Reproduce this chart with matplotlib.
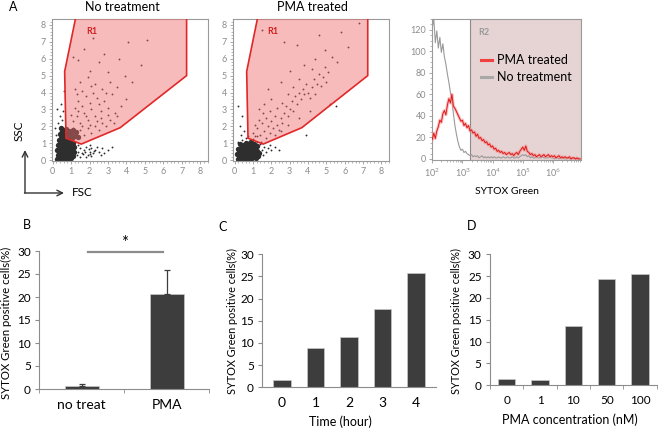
import matplotlib.pyplot as plt
from matplotlib.patches import Polygon, Rectangle
from matplotlib.ticker import AutoMinorLocator, FixedLocator, LogLocator, NullFormatter

plt.rcParams['font.family'] = ['Lato', 'DejaVu Sans']

W, H = 658, 429

# ---- data ----
# flow cytometry gate R1 (FSC, SSC)
gate_x = [1.28, 0.65, 0.72, 0.72, 1.55, 3.66, 7.26, 7.26]
gate_y = [8.6, 5.25, 1.43, 1.30, 0.95, 1.92, 5.0, 8.6]

# no treatment: dense core and sparse events
nt_core_x = [0.22, 0.32, 0.42, 0.52, 0.62, 0.72, 0.82, 0.92, 1.02, 1.12,
             0.27, 0.37, 0.47, 0.57, 0.67, 0.77, 0.87, 0.97, 1.07, 1.17,
             0.25, 0.35, 0.45, 0.55, 0.65, 0.75, 0.85, 0.95, 1.05, 1.18,
             0.3, 0.4, 0.5, 0.6, 0.7, 0.8, 0.9, 1.0, 1.1,
             0.35, 0.45, 0.55, 0.65, 0.85, 0.95, 1.05, 1.2,
             0.4, 0.5, 0.6, 0.8, 0.9, 1.0, 1.1, 0.45, 0.7, 1.25, 1.35]
nt_core_y = [0.05, 0.12, 0.04, 0.15, 0.06, 0.18, 0.08, 0.2, 0.1, 0.22,
             0.3, 0.38, 0.28, 0.42, 0.33, 0.45, 0.35, 0.48, 0.38, 0.5,
             0.6, 0.68, 0.58, 0.72, 0.62, 0.75, 0.65, 0.78, 0.68, 0.8,
             0.9, 0.98, 0.88, 1.02, 0.92, 1.05, 0.95, 1.08, 1.0,
             1.2, 1.3, 1.22, 1.35, 1.25, 1.4, 1.3, 1.45,
             1.55, 1.7, 1.5, 1.6, 1.75, 1.55, 1.8, 1.9, 1.85, 1.65, 1.35]
nt_dots_x = [1.1, 1.3, 1.5, 1.7, 1.9, 2.1, 2.3, 2.5, 1.2, 1.4, 1.6, 1.8, 2.0, 2.2, 2.4, 2.6, 2.8, 3.0,
             3.2, 3.4, 1.0, 1.2, 1.5, 1.9, 2.3, 2.7, 3.1, 3.5, 2.0, 2.5, 1.4, 1.1, 3.0, 3.9, 4.3, 2.8,
             1.7, 3.6, 4.1, 2.2, 5.1, 4.8, 1.3, 1.5, 1.7, 1.9, 2.1, 2.3, 2.5, 2.7, 2.9, 3.1, 3.3, 3.5,
             1.1, 1.6, 2.0, 2.4, 1.4, 1.8, 2.6, 3.0, 3.7, 4.0, 1.3, 2.9, 1.6, 2.1,
             0.2, 0.3, 0.4, 0.5, 0.25, 0.45, 0.15, 0.55, 0.6,
             1.3, 1.4, 1.5, 1.6, 1.7, 1.8, 1.9, 2.0, 2.1, 2.2, 2.3, 2.4, 1.5, 1.8, 2.1, 2.5, 2.6, 2.7,
             1.4, 2.0, 1.65, 1.95, 2.25, 2.8, 3.0, 3.2, 1.75, 2.05]
nt_dots_y = [2.3, 2.6, 2.2, 2.8, 2.4, 3.0, 2.6, 3.3, 3.1, 3.5, 3.2, 3.8, 3.4, 4.0, 3.7, 2.9, 3.5, 3.1,
             3.9, 2.8, 2.7, 4.2, 4.6, 4.9, 4.5, 4.2, 4.6, 4.3, 5.3, 5.8, 5.9, 6.1, 5.2, 5.0, 4.6, 6.3,
             6.6, 6.0, 7.0, 7.2, 7.1, 5.6, 1.6, 1.8, 1.5, 1.9, 1.6, 2.0, 1.8, 2.2, 2.0, 2.4, 2.2, 2.6,
             1.9, 2.0, 2.1, 2.3, 2.9, 2.6, 2.5, 2.7, 3.2, 3.6, 3.9, 4.0, 4.1, 4.4,
             1.5, 2.2, 2.6, 2.4, 3.0, 3.3, 1.9, 2.9, 4.1,
             0.3, 0.5, 0.7, 0.4, 0.6, 0.8, 0.3, 0.5, 0.7, 0.4, 0.6, 0.8, 0.2, 0.2, 0.25, 0.5, 0.3, 0.7,
             0.9, 0.9, 0.35, 0.65, 0.55, 0.45, 0.6, 0.8, 0.5, 0.35]

# PMA treated: dense core and sparse events
pma_core_x = [0.15, 0.25, 0.35, 0.45, 0.55, 0.65, 0.75, 0.85, 0.95, 1.05, 1.15, 1.25,
              0.12, 0.22, 0.32, 0.42, 0.52, 0.62, 0.72, 0.82, 0.92, 1.02, 1.12, 1.22, 1.32,
              0.2, 0.3, 0.4, 0.5, 0.6, 0.7, 0.8, 0.9, 1.0, 1.1, 1.2,
              0.3, 0.45, 0.6, 0.75, 0.9, 1.05]
pma_core_y = [0.05, 0.12, 0.04, 0.15, 0.06, 0.18, 0.08, 0.2, 0.1, 0.22, 0.12, 0.25,
              0.35, 0.42, 0.3, 0.45, 0.35, 0.48, 0.38, 0.5, 0.4, 0.52, 0.42, 0.55, 0.45,
              0.68, 0.62, 0.75, 0.65, 0.78, 0.68, 0.8, 0.7, 0.82, 0.72, 0.85,
              0.95, 0.9, 1.0, 0.95, 1.05, 0.98]
pma_dots_x = [0.2, 0.4, 0.6, 0.8, 1.0, 1.2, 1.4, 1.5, 1.6, 1.7, 1.8, 1.9, 2.0, 0.1, 0.15, 1.55, 1.45,
              0.7, 0.35, 2.2, 2.4, 1.1,
              1.0, 1.2, 1.4, 1.5, 1.6, 1.7, 1.8, 1.9, 2.0, 2.1, 2.2, 2.3, 2.4, 1.3, 1.1, 1.55, 1.95,
              2.5, 2.6, 2.7, 2.8, 2.9, 3.0, 3.1, 3.2, 3.3, 3.4, 3.5, 3.6, 3.7, 3.8, 3.9, 4.0, 4.1,
              4.2, 4.3, 4.4, 4.5, 4.6, 4.7, 4.8, 4.9, 5.0, 5.1, 3.5, 3.2, 2.9, 2.6, 2.3, 4.2, 3.8,
              4.4, 5.3, 4.9, 5.6, 3.0, 2.5, 2.0, 1.6, 1.3, 1.8, 5.8, 6.2, 4.6, 3.4, 2.7, 1.5, 6.8,
              5.2, 2.2, 2.9, 1.2, 1.7, 2.5, 3.5, 4.1,
              0.3, 0.4, 0.5, 0.2, 5.5, 3.9]
pma_dots_y = [1.1, 1.2, 1.3, 1.15, 1.25, 1.05, 0.95, 0.6, 0.8, 0.5, 0.7, 0.9, 0.6, 0.7, 1.0, 0.3, 1.1,
              1.45, 1.5, 0.8, 0.6, 1.4,
              1.6, 1.9, 1.5, 2.2, 1.7, 2.5, 2.0, 1.6, 2.3, 1.9, 2.6, 2.1, 1.8, 2.4, 2.1, 2.8, 2.9,
              2.5, 2.2, 2.8, 3.2, 2.6, 3.0, 3.5, 2.9, 3.8, 3.3, 4.0, 3.6, 4.2, 3.9, 4.5, 4.0, 3.7,
              4.3, 4.8, 3.9, 4.5, 5.1, 4.4, 4.9, 5.5, 4.6, 5.2, 4.8, 4.3, 3.9, 3.4, 3.1, 5.4, 5.6,
              6.0, 6.1, 6.5, 5.8, 5.3, 4.6, 3.6, 3.3, 3.0, 4.2, 7.6, 6.7, 7.4, 6.8, 7.0, 7.7, 8.1,
              3.3, 1.5, 2.1, 1.45, 1.3, 1.7, 2.5, 2.9,
              2.0, 2.6, 1.7, 3.2, 3.2, 1.5]

# SYTOX Green histogram (log10 intensity, counts)
hist_logx = [2.0 + 0.05 * i for i in range(99)]
pma_counts = [18, 24, 19, 26, 30, 36, 34, 42, 45, 41, 50, 56, 52, 60, 49, 47, 44, 41, 38, 35,
              36, 31, 33, 29, 31, 26, 27, 24, 25, 21, 23, 19, 20, 17, 18, 15, 16, 13, 14, 11,
              12, 9, 10, 7, 8, 6, 7, 5, 6, 4, 5, 6, 4, 5, 3, 5, 6, 4, 7, 9,
              11, 8, 12, 7, 6, 4, 5, 3, 4, 2, 3, 4, 2, 3, 4, 2, 3, 4, 2, 3,
              2, 3, 1, 2, 3, 1, 2, 1, 2, 1, 1, 2, 0, 1, 1, 0, 1, 0, 0]
nt_counts = [122, 130, 108, 119, 103, 113, 99, 107, 95, 88, 79, 71, 62, 54, 42, 31, 23, 16, 11, 8,
             9, 6, 7, 5, 4, 3, 4, 2, 3, 2, 3, 1, 2, 3, 1, 2, 1, 2, 1, 2,
             1, 2, 1, 1, 2, 1, 1, 2, 1, 1, 2, 1, 1, 2, 1, 1, 2, 1, 2, 3,
             4, 3, 4, 2, 3, 1, 2, 1, 1, 2, 1, 1, 1, 2, 1, 1, 1, 1, 2, 1,
             1, 0, 1, 1, 0, 1, 0, 1, 0, 0, 1, 0, 0, 1, 0, 0, 0, 0, 0]
r2_start = 3.24

# bar charts
b_labels = ['no treat', 'PMA']
b_values = [0.7, 20.6]
b_err = [0.4, 5.3]

c_labels = ['0', '1', '2', '3', '4']
c_values = [1.6, 8.8, 11.4, 17.7, 25.7]

d_labels = ['0', '1', '10', '50', '100']
d_values = [1.45, 1.2, 13.6, 24.3, 25.6]


def fx(x):
    return x / W


def fy(y):
    return 1 - y / H


fig = plt.figure(figsize=(W / 100, H / 100), dpi=100)
gray = '#8c8c8c'


def flow_axes(rect):
    ax = fig.add_axes(rect)
    for s in ax.spines.values():
        s.set_color('#9a9a9a')
        s.set_linewidth(0.8)
    ax.tick_params(labelsize=6.5, labelcolor=gray, color='#9a9a9a', length=2.5, width=0.6, pad=2)
    ax.tick_params(which='minor', length=1.5, width=0.5, color='#9a9a9a')
    return ax


def scatter_panel(rect, core_x, core_y, dots_x, dots_y, x0):
    ax = flow_axes(rect)
    ax.scatter(core_x, core_y, s=15, color='#2e2e2e', lw=0, zorder=2)
    ax.scatter(dots_x, dots_y, s=1.8, color='#2e2e2e', lw=0, zorder=2)
    ax.add_patch(Polygon(list(zip(gate_x, gate_y)), closed=True, facecolor='#f06a6a', alpha=0.45,
                         edgecolor='none', zorder=3))
    ax.add_patch(Polygon(list(zip(gate_x, gate_y)), closed=True, facecolor='none',
                         edgecolor='#e02828', lw=1.2, zorder=4))
    ax.text(1.8, 7.45, 'R1', color='#d02020', fontsize=6.5, fontweight='bold', zorder=5)
    ax.set_xlim(x0, 8.42)
    ax.set_ylim(-0.05, 8.35)
    ax.set_xticks(range(9))
    ax.set_yticks(range(9))
    ax.xaxis.set_minor_locator(AutoMinorLocator(5))
    ax.yaxis.set_minor_locator(AutoMinorLocator(5))
    return ax


ax1 = scatter_panel([fx(52.3), fy(161), fx(208 - 52.3), (161 - 19) / H],
                    nt_core_x, nt_core_y, nt_dots_x, nt_dots_y, -0.02)
ax2 = scatter_panel([fx(233.3), fy(161), fx(389 - 233.3), (161 - 19) / H],
                    pma_core_x, pma_core_y, pma_dots_x, pma_dots_y, -0.08)

# histogram
ax3 = flow_axes([fx(432.3), fy(160), fx(581 - 432.3), (160 - 19) / H])
hx = [10 ** v for v in hist_logx]
ax3.add_patch(Rectangle((10 ** r2_start, -5), 10 ** 7.5, 200, facecolor='#e6d3d3',
                        edgecolor='#8a8a8a', lw=0.8, zorder=1))
ax3.plot(hx, nt_counts, color='#9a9a9a', lw=0.8, zorder=3)
ax3.plot(hx, pma_counts, color='#f59090', lw=2.2, alpha=0.6, zorder=4)
ax3.plot(hx, pma_counts, color='#e01818', lw=0.7, zorder=5)
ax3.set_xscale('log')
ax3.set_xlim(1e2, 10 ** 6.93)
ax3.set_ylim(-1, 130)
ax3.set_xticks([1e2, 1e3, 1e4, 1e5, 1e6])
ax3.set_yticks(range(0, 121, 20))
ax3.yaxis.set_minor_locator(AutoMinorLocator(4))
ax3.xaxis.set_minor_locator(LogLocator(subs=range(2, 10)))
ax3.xaxis.set_minor_formatter(NullFormatter())
ax3.text(0.307, 0.89, 'R2', transform=ax3.transAxes, color='#9a9a9a', fontsize=6.5,
         fontweight='bold')
ax3.plot([0.327, 0.40], [0.71, 0.71], transform=ax3.transAxes, color='#f04040', lw=2.2)
ax3.plot([0.327, 0.40], [0.59, 0.59], transform=ax3.transAxes, color='#a8a8a8', lw=2.2)
ax3.text(0.435, 0.71, 'PMA treated', transform=ax3.transAxes, fontsize=9, va='center')
ax3.text(0.435, 0.59, 'No treatment', transform=ax3.transAxes, fontsize=9, va='center')
fig.text(fx(507), fy(191), 'SYTOX Green', fontsize=7.5, ha='center', va='center')

# panel A labels and SSC/FSC arrows
fig.text(fx(13), fy(7), 'A', fontsize=9, ha='center', va='center')
fig.text(fx(122), fy(7), 'No treatment', fontsize=9, ha='center', va='center')
fig.text(fx(312), fy(7), 'PMA treated', fontsize=9, ha='center', va='center')
arrow = dict(arrowstyle='->', color='#333333', lw=1.0, shrinkA=0, shrinkB=0)
ax1.annotate('', xy=(fx(25), fy(150)), xytext=(fx(25), fy(193)), xycoords='figure fraction',
             textcoords='figure fraction', arrowprops=arrow, annotation_clip=False)
ax1.annotate('', xy=(fx(64), fy(193)), xytext=(fx(24.5), fy(193)), xycoords='figure fraction',
             textcoords='figure fraction', arrowprops=arrow, annotation_clip=False)
fig.text(fx(19), fy(131), 'SSC', fontsize=8.5, rotation=90, ha='center', va='center')
fig.text(fx(82), fy(193), 'FSC', fontsize=8.5, ha='center', va='center')


def bar_axes(rect):
    ax = fig.add_axes(rect)
    for s in ['top', 'right']:
        ax.spines[s].set_visible(False)
    for s in ['left', 'bottom']:
        ax.spines[s].set_color('#8c8c8c')
        ax.spines[s].set_linewidth(0.8)
    ax.set_ylim(0, 30)
    ax.set_yticks(range(0, 31, 5))
    ax.tick_params(axis='y', labelsize=8.5, length=3, color='#8c8c8c', pad=3)
    ax.tick_params(axis='x', which='major', length=0, pad=7)
    ax.tick_params(axis='x', which='minor', length=3, color='#8c8c8c')
    return ax


bar_kw = dict(color='#3d3d3d', edgecolor='#c8c8c8', linewidth=0.5, zorder=2)
ylab = 'SYTOX Green positive cells(%)'

# B
axb = bar_axes([fx(39.3), fy(389), fx(209 - 39.3), (389 - 251) / H])
axb.bar(range(2), b_values, width=0.4, yerr=[[0, 0], b_err], capsize=2.5,
        error_kw=dict(ecolor='#3d3d3d', elinewidth=0.9, capthick=0.9), **bar_kw)
axb.set_xlim(-0.5, 1.5)
axb.set_xticks(range(2))
axb.set_xticklabels(b_labels, fontsize=10)
axb.xaxis.set_minor_locator(FixedLocator([-0.5, 0.5, 1.5]))
axb.plot([0.073, 0.952], [29.8, 29.8], color='#8c8c8c', lw=1.6, clip_on=False)
axb.text(0.51, 31.8, '*', fontsize=12, ha='center', va='center', clip_on=False)
fig.text(fx(6), fy(323), ylab, fontsize=8.2, rotation=90, ha='center', va='center')
fig.text(fx(27), fy(225), 'B', fontsize=9, ha='center', va='center')

# C
axc = bar_axes([fx(262.3), fy(387.3), fx(435.9 - 262.3), (387.3 - 254.3) / H])
axc.bar(range(5), c_values, width=0.52, **bar_kw)
axc.set_xlim(-0.59, 4.59)
axc.set_xticks(range(5))
axc.set_xticklabels(c_labels, fontsize=10)
fig.text(fx(232), fy(321), ylab, fontsize=7.8, rotation=90, ha='center', va='center')
fig.text(fx(340), fy(422), 'Time (hour)', fontsize=9, ha='center', va='center')
fig.text(fx(223), fy(227), 'C', fontsize=9, ha='center', va='center')

# D
axd = bar_axes([fx(490), fy(385.3), fx(656.7 - 490), (385.3 - 254.3) / H])
axd.bar(range(5), d_values, width=0.52, **bar_kw)
axd.set_xlim(-0.5, 4.5)
axd.set_xticks(range(5))
axd.set_xticklabels(d_labels, fontsize=8.5)
axd.xaxis.set_minor_locator(FixedLocator([-0.5, 0.5, 1.5, 2.5, 3.5, 4.5]))
fig.text(fx(456), fy(321), ylab, fontsize=7.8, rotation=90, ha='center', va='center')
fig.text(fx(570), fy(420), 'PMA concentration (nM)', fontsize=9, ha='center', va='center')
fig.text(fx(472), fy(226), 'D', fontsize=9, ha='center', va='center')

fig.savefig('out.png', dpi=100)
